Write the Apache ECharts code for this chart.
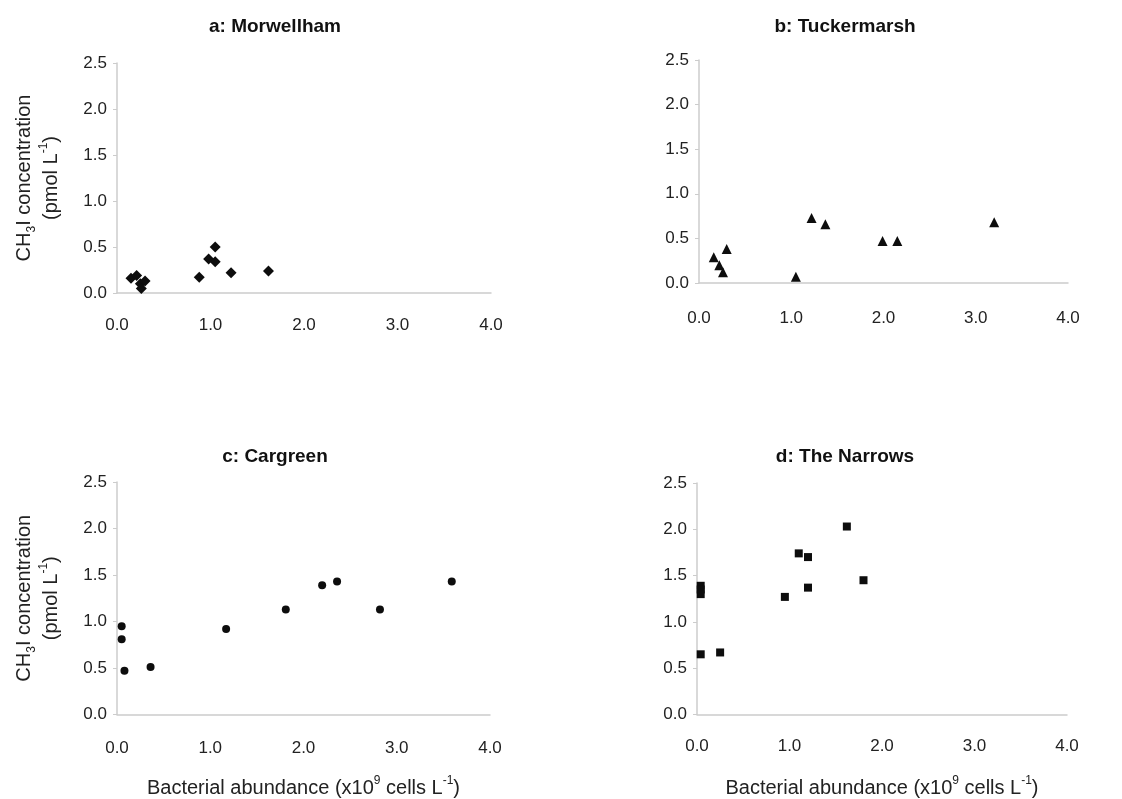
<!DOCTYPE html>
<html>
<head>
<meta charset="utf-8">
<script src="https://cdn.jsdelivr.net/npm/echarts@6/dist/echarts.min.js"></script>
<style>
  html, body { margin: 0; padding: 0; background: #ffffff; }
  #chart { width: 1122px; height: 799px; }
</style>
</head>
<body>
<div id="chart"></div>
<script>
// Panel titles
const panelTitles = ['a: Morwellham', 'b: Tuckermarsh', 'c: Cargreen', 'd: The Narrows'];

// Axis ticks (shared by all panels)
const xTicks = [0, 1, 2, 3, 4];
const yTicks = [0, 0.5, 1, 1.5, 2, 2.5];

// a: Morwellham — bacterial abundance (x10^9 cells/L) vs CH3I (pmol/L)
const morwellhamX = [0.15, 0.21, 0.25, 0.26, 0.30, 0.88, 0.98, 1.05, 1.05, 1.22, 1.62];
const morwellhamY = [0.16, 0.19, 0.10, 0.05, 0.13, 0.17, 0.37, 0.50, 0.34, 0.22, 0.24];

// b: Tuckermarsh
const tuckermarshX = [0.16, 0.22, 0.26, 0.30, 1.05, 1.22, 1.37, 1.99, 2.15, 3.20];
const tuckermarshY = [0.29, 0.20, 0.12, 0.38, 0.07, 0.73, 0.66, 0.47, 0.47, 0.68];

// c: Cargreen
const cargreenX = [0.05, 0.05, 0.08, 0.36, 1.17, 1.81, 2.20, 2.36, 2.82, 3.59];
const cargreenY = [0.95, 0.81, 0.47, 0.51, 0.92, 1.13, 1.39, 1.43, 1.13, 1.43];

// d: The Narrows
const narrowsX = [0.04, 0.04, 0.04, 0.04, 0.25, 0.95, 1.10, 1.20, 1.20, 1.62, 1.80];
const narrowsY = [1.39, 1.35, 1.30, 0.65, 0.67, 1.27, 1.74, 1.70, 1.37, 2.03, 1.45];

const zip = (xs, ys) => xs.map((x, i) => [x, ys[i]]);

const FONT = 'Liberation Sans, Arial, sans-serif';
const TEXT = '#222222';
const AXIS = '#cccccc';

// plot areas: [left, top, width, height]
const boxes = [
  [117, 63, 374, 230],
  [699, 60, 369, 223],
  [117, 482, 373, 233],
  [697, 483, 370, 233]
];
const labelMargins = [24, 27, 25, 23];
const titleCenters = [[270, 12], [840, 12], [270, 442], [840, 442]];

const yName = '{n|CH}{s|3}{n|I concentration}\n{n|(pmol L}{p|-1}{n|)}';
const xName = '{n|Bacterial abundance (x10}{p|9}{n| cells L}{p|-1}{n|)}';

const nameRich = {
  n: { fontSize: 20, fontFamily: FONT, color: TEXT, lineHeight: 27 },
  s: { fontSize: 12, fontFamily: FONT, color: TEXT, verticalAlign: 'bottom', lineHeight: 15 },
  p: { fontSize: 12, fontFamily: FONT, color: TEXT, verticalAlign: 'top', lineHeight: 15 }
};

const grids = boxes.map(b => ({ left: b[0], top: b[1], width: b[2], height: b[3] }));

const xAxes = boxes.map((b, i) => ({
  type: 'value', gridIndex: i, min: xTicks[0], max: xTicks[xTicks.length - 1], interval: 1,
  axisLine: { show: true, lineStyle: { color: AXIS, width: 1.5 } },
  axisTick: { show: false },
  splitLine: { show: false },
  axisLabel: { margin: labelMargins[i], fontSize: 17, fontFamily: FONT, color: TEXT,
               formatter: v => v.toFixed(1) },
  name: i >= 2 ? xName : '',
  nameLocation: 'middle', nameGap: 60,
  nameTextStyle: { rich: nameRich }
}));

const yAxes = boxes.map((b, i) => ({
  type: 'value', gridIndex: i, min: yTicks[0], max: yTicks[yTicks.length - 1], interval: 0.5,
  axisLine: { show: true, lineStyle: { color: AXIS, width: 1.5 } },
  axisTick: { show: true, length: 4, lineStyle: { color: AXIS } },
  splitLine: { show: false },
  axisLabel: { margin: 10, fontSize: 17, fontFamily: FONT, color: TEXT,
               formatter: v => v.toFixed(1) },
  name: (i === 0 || i === 2) ? yName : '',
  nameLocation: 'middle', nameRotate: 90, nameGap: 52,
  nameTextStyle: { rich: nameRich, align: 'center' }
}));

const markers = [
  { symbol: 'diamond', size: 11 },
  { symbol: 'triangle', size: 10 },
  { symbol: 'circle', size: 8 },
  { symbol: 'rect', size: 8 }
];
const datasets = [
  zip(morwellhamX, morwellhamY),
  zip(tuckermarshX, tuckermarshY),
  zip(cargreenX, cargreenY),
  zip(narrowsX, narrowsY)
];

const series = datasets.map((d, i) => ({
  type: 'scatter', xAxisIndex: i, yAxisIndex: i,
  symbol: markers[i].symbol, symbolSize: markers[i].size,
  itemStyle: { color: '#0d0d0d', opacity: 1 },
  data: d
}));

const titles = panelTitles.map((t, i) => ({
  text: t, left: titleCenters[i][0], top: titleCenters[i][1], textAlign: 'center',
  textStyle: { fontSize: 19, fontWeight: 'bold', fontFamily: FONT, color: '#111111' }
}));

const chart = echarts.init(document.getElementById('chart'), null, { renderer: 'canvas' });
chart.setOption({
  backgroundColor: '#ffffff',
  animation: false,
  title: titles,
  grid: grids,
  xAxis: xAxes,
  yAxis: yAxes,
  series: series
});
</script>
</body>
</html>
